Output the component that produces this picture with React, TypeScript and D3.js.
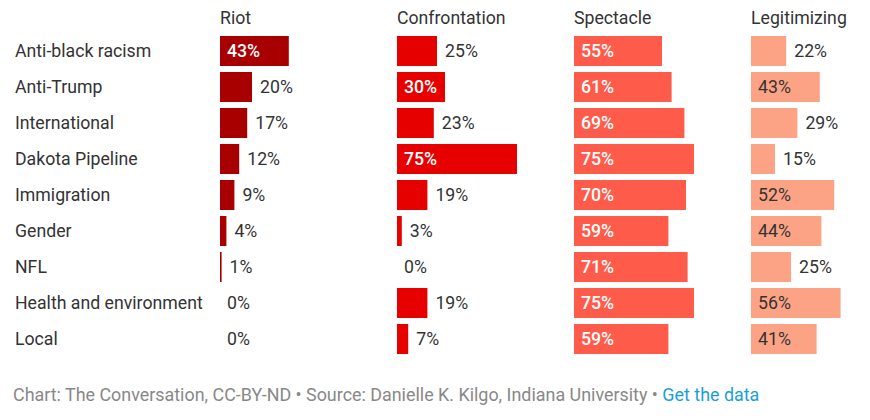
import React from "react";
import * as d3 from "d3";

// topics, one row each
const categories = [
  "Anti-black racism",
  "Anti-Trump",
  "International",
  "Dakota Pipeline",
  "Immigration",
  "Gender",
  "NFL",
  "Health and environment",
  "Local",
];

const columns = ["Riot", "Confrontation", "Spectacle", "Legitimizing"];

const riot = [43, 20, 17, 12, 9, 4, 1, 0, 0];
const confrontation = [25, 30, 23, 75, 19, 3, 0, 19, 7];
const spectacle = [55, 61, 69, 75, 70, 59, 71, 75, 59];
const legitimizing = [22, 43, 29, 15, 52, 44, 25, 56, 41];

const seriesValues = [riot, confrontation, spectacle, legitimizing];
const colors = ["#a80000", "#e60000", "#ff5b4a", "#fda385"];
const insideText = ["#fff", "#fff", "#fff", "#333"];

const font = "Roboto, 'Noto Sans', sans-serif";
const fs = 17.7;

export default function App() {
  const width = 870,
    height = 420;

  const col = d3.scalePoint<string>().domain(columns).range([220, 751]);
  const x = d3.scaleLinear().domain([0, 100]).range([0, 160]);
  const y = d3
    .scaleBand<string>()
    .domain(categories)
    .range([33, 357])
    .paddingInner(1 / 6)
    .paddingOuter(1 / 12);

  return (
    <svg
      width={width}
      height={height}
      style={{ position: "absolute", left: 0, top: 0, background: "#fff" }}
      fontFamily={font}
    >
      {categories.map((c) => (
        <text
          key={c}
          x={15}
          y={(y(c) ?? 0) + y.bandwidth() / 2}
          dy="0.35em"
          fontSize={fs}
          fill="#333"
        >
          {c}
        </text>
      ))}
      {columns.map((name, ci) => {
        const x0 = col(name) ?? 0;
        return (
          <g key={name} transform={`translate(${x0},0)`}>
            <text x={0} y={24} fontSize={fs} fill="#333">
              {name}
            </text>
            {seriesValues[ci].map((v, i) => {
              const yy = y(categories[i]) ?? 0;
              const w = x(v);
              const inside = w >= 48;
              return (
                <g key={i}>
                  {v > 0 && (
                    <rect
                      x={0}
                      y={yy}
                      width={w}
                      height={y.bandwidth()}
                      fill={colors[ci]}
                    />
                  )}
                  <text
                    x={inside ? 7 : v > 0 ? w + 8 : 7}
                    y={yy + y.bandwidth() / 2}
                    dy="0.35em"
                    fontSize={fs}
                    fontWeight={inside && ci < 3 ? 500 : 400}
                    fill={inside ? insideText[ci] : "#333"}
                  >
                    {v}%
                  </text>
                </g>
              );
            })}
          </g>
        );
      })}
      <text x={13} y={401} fontSize={17.9} fill="#888">
        Chart: The Conversation, CC-BY-ND • Source: Danielle K. Kilgo, Indiana
        University •{" "}
        <tspan fill="#1a9fd4">Get the data</tspan>
      </text>
    </svg>
  );
}
